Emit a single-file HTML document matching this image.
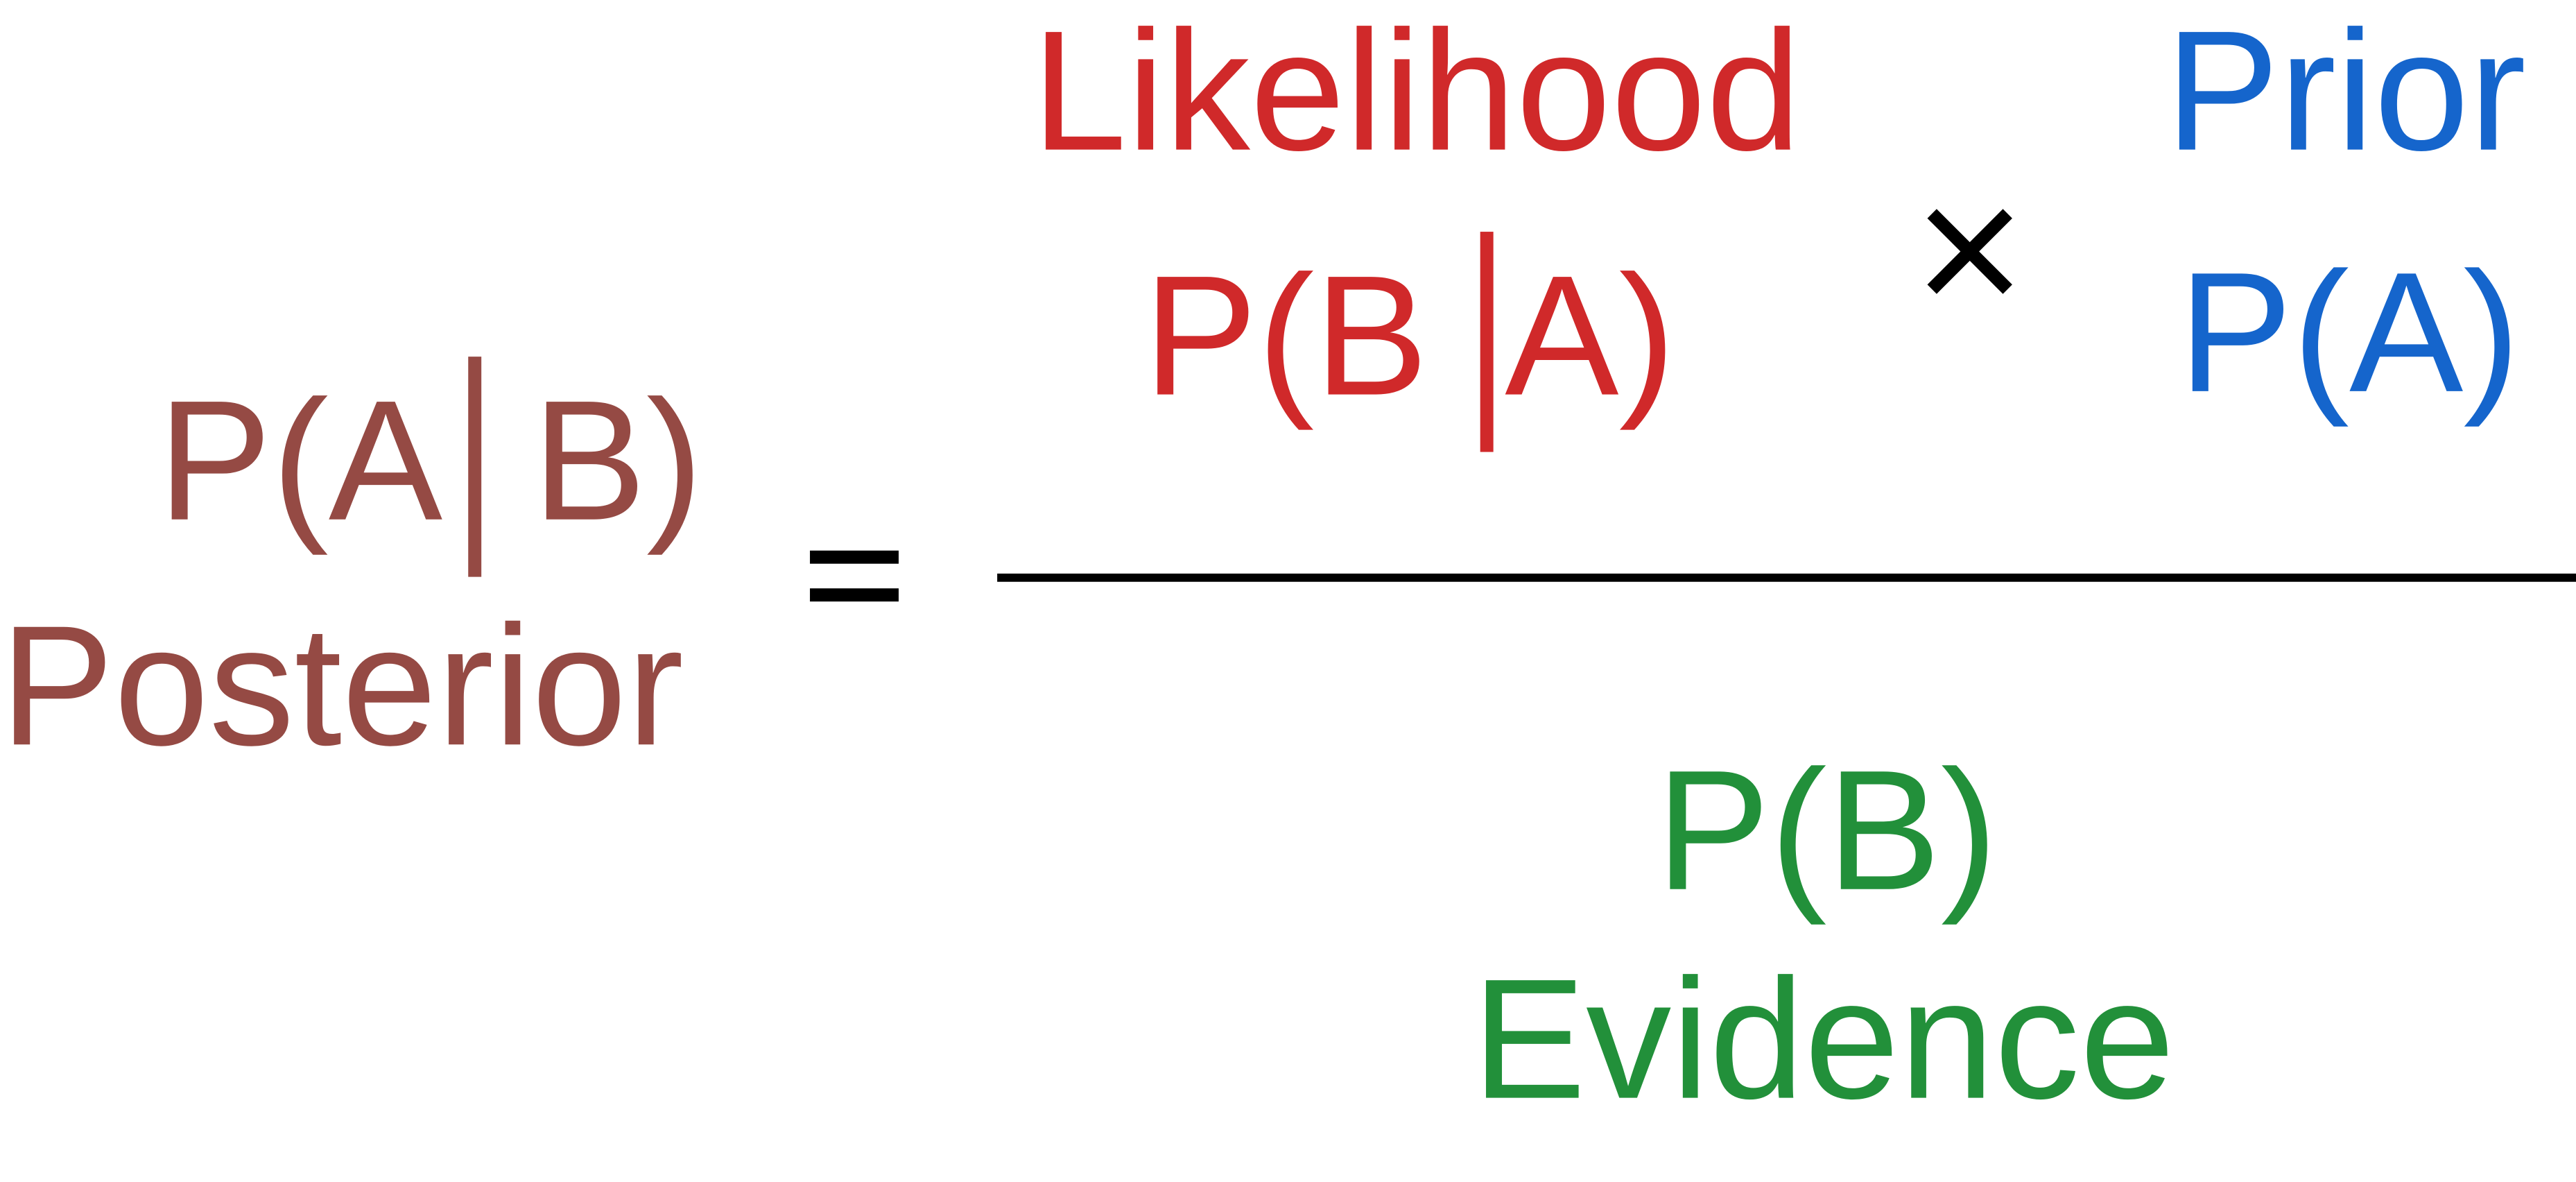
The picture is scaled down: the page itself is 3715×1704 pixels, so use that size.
<!DOCTYPE html>
<html>
<head>
<meta charset="utf-8">
<style>
  html, body { margin: 0; padding: 0; background: #ffffff; }
  svg { display: block; }
  text { font-family: "Liberation Sans", Arial, sans-serif; font-size: 104px; }
</style>
</head>
<body>
<svg width="3715" height="1704" viewBox="0 0 1568 719.2" preserveAspectRatio="none" xmlns="http://www.w3.org/2000/svg">
  <rect x="0" y="0" width="1568" height="719.2" fill="#ffffff"/>

  <text x="628" y="91" fill="#d0292a">Likelihood</text>
  <text x="1318" y="91" fill="#1565cc">Prior</text>

  <line x1="1176" y1="130" x2="1222" y2="176" stroke="#000" stroke-width="8"/>
  <line x1="1222" y1="130" x2="1176" y2="176" stroke="#000" stroke-width="8"/>

  <text x="696" y="240" fill="#d0292a">P(B</text>
  <rect x="901" y="141" width="8" height="134" fill="#d0292a"/>
  <text x="916" y="240" fill="#d0292a">A)</text>

  <text x="1326" y="238" fill="#1565cc">P(A)</text>

  <text x="96" y="316" fill="#954a44">P(A</text>
  <rect x="285" y="217" width="8" height="134" fill="#954a44"/>
  <text x="324" y="316" fill="#954a44">B)</text>
  <text x="0" y="453" fill="#954a44">Posterior</text>

  <rect x="493" y="335" width="54" height="8" fill="#000"/>
  <rect x="493" y="358" width="54" height="8" fill="#000"/>

  <rect x="607" y="349" width="961" height="5" fill="#000"/>

  <text x="1008" y="541" fill="#22903a">P(B)</text>
  <text x="896" y="668" fill="#22903a">Evidence</text>
</svg>
</body>
</html>
